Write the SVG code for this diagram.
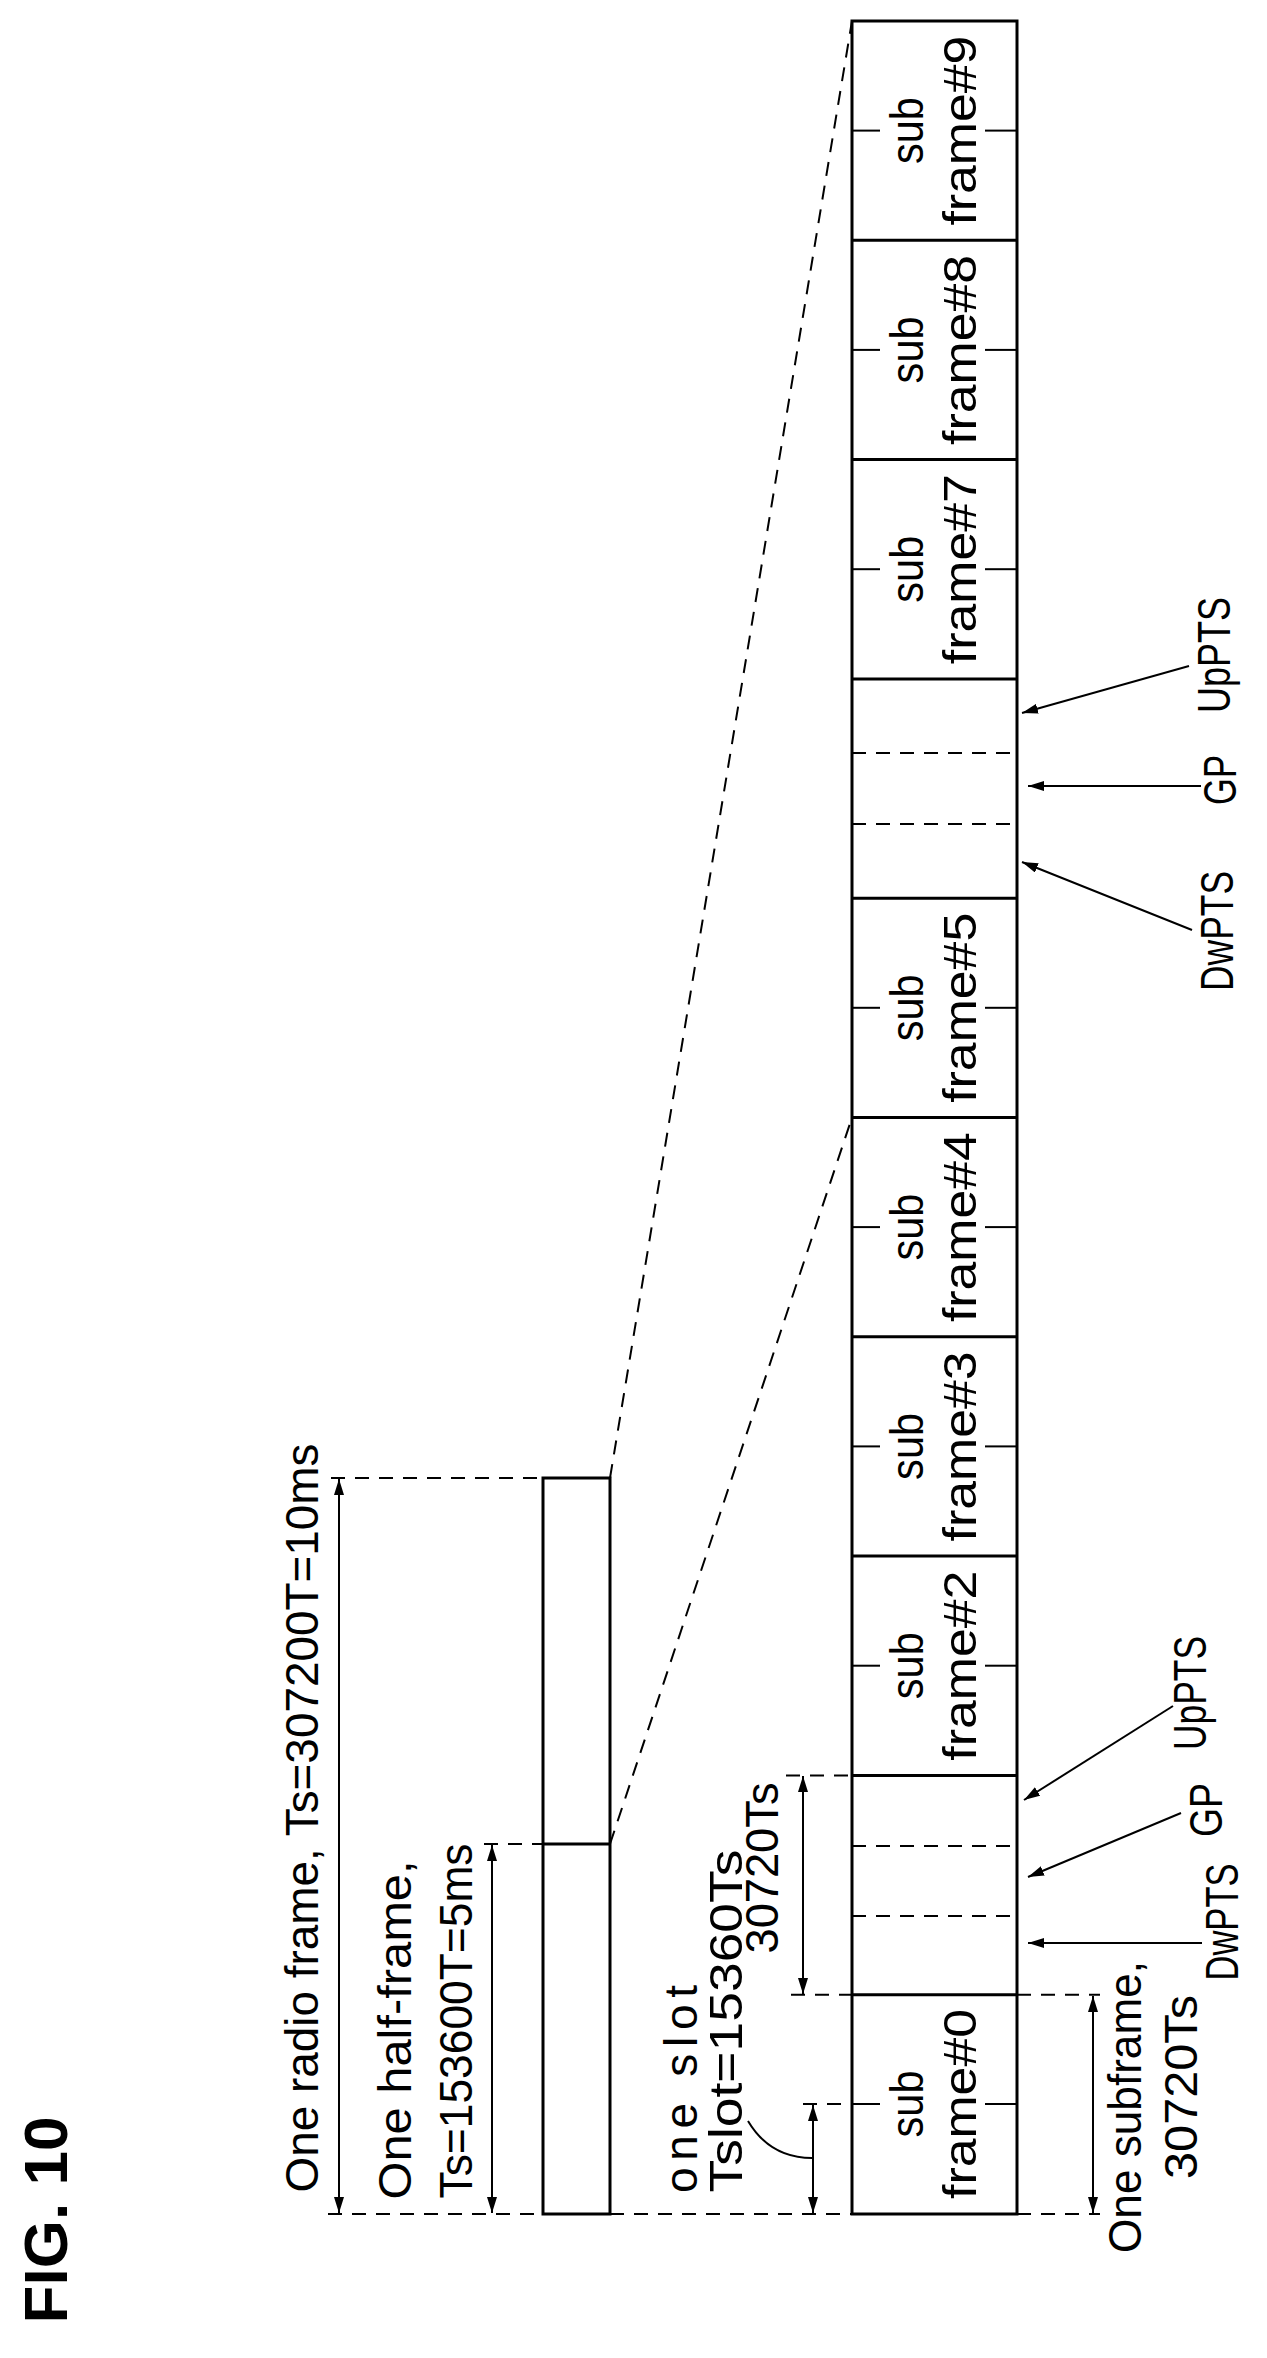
<svg xmlns="http://www.w3.org/2000/svg" width="1267" height="2358" viewBox="0 0 1267 2358">
<style>
.t{font-family:"Liberation Sans",Arial,sans-serif;font-size:46px;fill:#000;text-anchor:middle;dominant-baseline:central}
.b{stroke:#000;stroke-width:3;fill:none}
.s{stroke:#000;stroke-width:2;fill:none}
.d{stroke:#000;stroke-width:2;fill:none;stroke-dasharray:14 10}
.a{stroke:#000;stroke-width:2;fill:none;marker-end:url(#ah)}
.aa{stroke:#000;stroke-width:2;fill:none;marker-end:url(#ah);marker-start:url(#ahs)}
</style>
<defs>
<marker id="ah" viewBox="0 0 16 10" refX="16" refY="5" markerWidth="16" markerHeight="10" markerUnits="userSpaceOnUse" orient="auto"><path d="M0,0 L16,5 L0,10 Z" fill="#000"/></marker>
<marker id="ahs" viewBox="0 0 16 10" refX="0" refY="5" markerWidth="16" markerHeight="10" markerUnits="userSpaceOnUse" orient="auto"><path d="M16,0 L0,5 L16,10 Z" fill="#000"/></marker>
</defs>
<text x="0" y="0" transform="translate(45,2220) rotate(-90)" style="font-family:'Liberation Sans',Arial,sans-serif;font-weight:bold;font-size:62px;text-anchor:middle;dominant-baseline:central">FIG. 10</text>

<g id="radio-frame-box">
<rect class="b" x="543" y="1478" width="67" height="736"/>
<line class="b" x1="543" y1="1844" x2="610" y2="1844"/>
</g>

<g id="main-frame">
<rect class="b" x="852" y="21" width="165" height="2193"/>
<g class="b">
<line x1="852" y1="240.3" x2="1017" y2="240.3"/>
<line x1="852" y1="459.6" x2="1017" y2="459.6"/>
<line x1="852" y1="678.9" x2="1017" y2="678.9"/>
<line x1="852" y1="898.2" x2="1017" y2="898.2"/>
<line x1="852" y1="1117.5" x2="1017" y2="1117.5"/>
<line x1="852" y1="1336.8" x2="1017" y2="1336.8"/>
<line x1="852" y1="1556.1" x2="1017" y2="1556.1"/>
<line x1="852" y1="1775.4" x2="1017" y2="1775.4"/>
<line x1="852" y1="1994.7" x2="1017" y2="1994.7"/>
</g>
<g class="d">
<line x1="852" y1="753" x2="1017" y2="753"/>
<line x1="852" y1="824" x2="1017" y2="824"/>
<line x1="852" y1="1846" x2="1017" y2="1846"/>
<line x1="852" y1="1916" x2="1017" y2="1916"/>
</g>
<g class="s">
<line x1="852" y1="130.6" x2="880" y2="130.6"/><line x1="985" y1="130.6" x2="1017" y2="130.6"/>
<line x1="852" y1="349.9" x2="880" y2="349.9"/><line x1="985" y1="349.9" x2="1017" y2="349.9"/>
<line x1="852" y1="569.2" x2="880" y2="569.2"/><line x1="985" y1="569.2" x2="1017" y2="569.2"/>
<line x1="852" y1="1007.8" x2="880" y2="1007.8"/><line x1="985" y1="1007.8" x2="1017" y2="1007.8"/>
<line x1="852" y1="1227.1" x2="880" y2="1227.1"/><line x1="985" y1="1227.1" x2="1017" y2="1227.1"/>
<line x1="852" y1="1446.4" x2="880" y2="1446.4"/><line x1="985" y1="1446.4" x2="1017" y2="1446.4"/>
<line x1="852" y1="1665.7" x2="880" y2="1665.7"/><line x1="985" y1="1665.7" x2="1017" y2="1665.7"/>
<line x1="852" y1="2104" x2="880" y2="2104"/><line x1="985" y1="2104" x2="1017" y2="2104"/>
</g>
</g>

<g id="sf9"><text class="t" transform="translate(907,130.6) rotate(-90)" textLength="67" lengthAdjust="spacingAndGlyphs">sub</text><text class="t" transform="translate(960,130.6) rotate(-90)" textLength="190" lengthAdjust="spacingAndGlyphs">frame#9</text></g>
<g id="sf8"><text class="t" transform="translate(907,349.9) rotate(-90)" textLength="67" lengthAdjust="spacingAndGlyphs">sub</text><text class="t" transform="translate(960,349.9) rotate(-90)" textLength="190" lengthAdjust="spacingAndGlyphs">frame#8</text></g>
<g id="sf7"><text class="t" transform="translate(907,569.2) rotate(-90)" textLength="67" lengthAdjust="spacingAndGlyphs">sub</text><text class="t" transform="translate(960,569.2) rotate(-90)" textLength="190" lengthAdjust="spacingAndGlyphs">frame#7</text></g>
<g id="sf5"><text class="t" transform="translate(907,1007.8) rotate(-90)" textLength="67" lengthAdjust="spacingAndGlyphs">sub</text><text class="t" transform="translate(960,1007.8) rotate(-90)" textLength="190" lengthAdjust="spacingAndGlyphs">frame#5</text></g>
<g id="sf4"><text class="t" transform="translate(907,1227.1) rotate(-90)" textLength="67" lengthAdjust="spacingAndGlyphs">sub</text><text class="t" transform="translate(960,1227.1) rotate(-90)" textLength="190" lengthAdjust="spacingAndGlyphs">frame#4</text></g>
<g id="sf3"><text class="t" transform="translate(907,1446.4) rotate(-90)" textLength="67" lengthAdjust="spacingAndGlyphs">sub</text><text class="t" transform="translate(960,1446.4) rotate(-90)" textLength="190" lengthAdjust="spacingAndGlyphs">frame#3</text></g>
<g id="sf2"><text class="t" transform="translate(907,1665.7) rotate(-90)" textLength="67" lengthAdjust="spacingAndGlyphs">sub</text><text class="t" transform="translate(960,1665.7) rotate(-90)" textLength="190" lengthAdjust="spacingAndGlyphs">frame#2</text></g>
<g id="sf0"><text class="t" transform="translate(907,2104) rotate(-90)" textLength="67" lengthAdjust="spacingAndGlyphs">sub</text><text class="t" transform="translate(960,2104) rotate(-90)" textLength="190" lengthAdjust="spacingAndGlyphs">frame#0</text></g>

<g id="labels">
<text class="t" transform="translate(302,1818) rotate(-90)" textLength="749" lengthAdjust="spacingAndGlyphs">One radio frame, Ts=307200T=10ms</text>
<text class="t" transform="translate(395,2030) rotate(-90)" textLength="339" lengthAdjust="spacingAndGlyphs">One half-frame,</text>
<text class="t" transform="translate(456,2021) rotate(-90)" textLength="355" lengthAdjust="spacingAndGlyphs">Ts=153600T=5ms</text>
<text class="t" transform="translate(681,2089) rotate(-90)" textLength="208" lengthAdjust="spacing">one slot</text>
<text class="t" transform="translate(726,2021) rotate(-90)" textLength="343" lengthAdjust="spacingAndGlyphs">Tslot=15360Ts</text>
<text class="t" transform="translate(762,1868) rotate(-90)" textLength="171" lengthAdjust="spacingAndGlyphs">30720Ts</text>
<text class="t" transform="translate(1125,2107) rotate(-90)" textLength="292" lengthAdjust="spacingAndGlyphs">One subframe,</text>
<text class="t" transform="translate(1181,2087) rotate(-90)" textLength="184" lengthAdjust="spacingAndGlyphs">30720Ts</text>
<text class="t" transform="translate(1222,1922) rotate(-90)" textLength="117" lengthAdjust="spacingAndGlyphs">DwPTS</text>
<text class="t" transform="translate(1206,1810) rotate(-90)" textLength="54" lengthAdjust="spacingAndGlyphs">GP</text>
<text class="t" transform="translate(1190,1693) rotate(-90)" textLength="114" lengthAdjust="spacingAndGlyphs">UpPTS</text>
<text class="t" transform="translate(1217,931) rotate(-90)" textLength="120" lengthAdjust="spacingAndGlyphs">DwPTS</text>
<text class="t" transform="translate(1220,780) rotate(-90)" textLength="50" lengthAdjust="spacingAndGlyphs">GP</text>
<text class="t" transform="translate(1214,655) rotate(-90)" textLength="116" lengthAdjust="spacingAndGlyphs">UpPTS</text>
</g>

<g id="connectors">
<line class="d" x1="331" y1="1478" x2="543" y2="1478"/>
<line class="d" x1="484" y1="1844" x2="543" y2="1844"/>
<line class="d" x1="328" y1="2214" x2="543" y2="2214"/>
<line class="d" x1="610" y1="2214" x2="852" y2="2214"/>
<line class="d" x1="1017" y1="2214" x2="1100" y2="2214"/>
<line class="d" x1="610" y1="1478" x2="852" y2="21"/>
<line class="d" x1="610" y1="1844" x2="852" y2="1117.5"/>
<line class="d" x1="786" y1="1775.4" x2="852" y2="1775.4"/>
<line class="d" x1="791" y1="1994.7" x2="852" y2="1994.7"/>
<line class="d" x1="1017" y1="1994.7" x2="1100" y2="1994.7"/>
<line class="d" x1="803" y1="2104" x2="852" y2="2104"/>
<line class="aa" x1="339" y1="1479" x2="339" y2="2213"/>
<line class="aa" x1="492" y1="1845" x2="492" y2="2213"/>
<line class="aa" x1="803" y1="1776" x2="803" y2="1994"/>
<line class="aa" x1="813" y1="2105" x2="813" y2="2213"/>
<line class="aa" x1="1093" y1="1996" x2="1093" y2="2213"/>
<path class="s" d="M748,2121 Q770,2158 812,2158"/>
<line class="a" x1="1202" y1="1943" x2="1028" y2="1943"/>
<line class="a" x1="1181" y1="1813" x2="1028" y2="1877"/>
<line class="a" x1="1173" y1="1706" x2="1024" y2="1800"/>
<line class="a" x1="1189" y1="666" x2="1022" y2="713"/>
<line class="a" x1="1201" y1="786" x2="1028" y2="786"/>
<line class="a" x1="1192" y1="930" x2="1022" y2="862"/>
</g>
</svg>
